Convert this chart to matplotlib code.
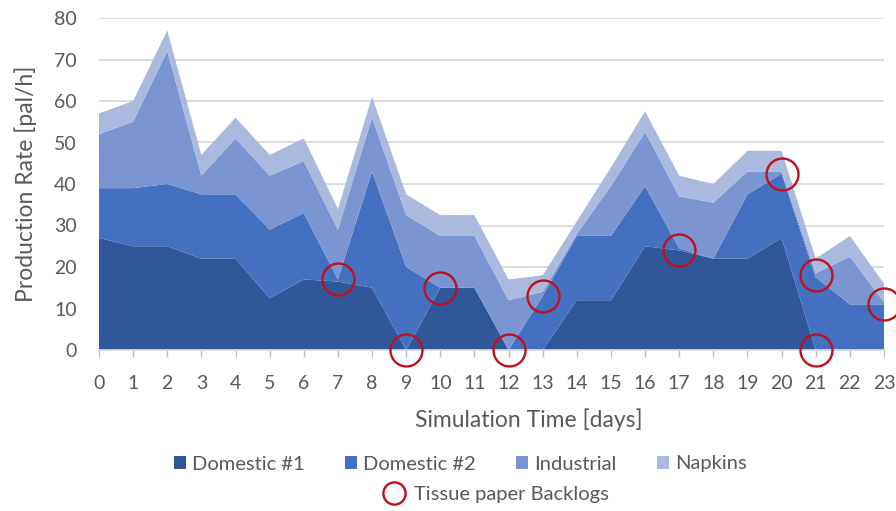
import numpy as np
import matplotlib
matplotlib.use("Agg")
from matplotlib import pyplot as plt
from matplotlib.patches import Patch
from matplotlib.lines import Line2D

plt.rcParams['font.family'] = ['Lato', 'DejaVu Sans']

# daily production rates per product line [pal/h]
days = list(range(24))
domestic1 = [27, 25, 25, 22, 22, 12.5, 17, 16.5, 15, 0, 15, 15, 0, 0, 12, 12, 25, 24, 22, 22, 27, 0, 0, 0]
domestic2 = [12, 14, 15, 15.5, 15.5, 16.5, 16, 0.5, 28, 20, 0, 0, 0, 13, 15.5, 15.5, 14.5, 0.5, 0, 15.5, 15.5, 17.5, 11, 11]
industrial = [13, 16, 32, 4.5, 13.5, 13, 12.5, 12, 13, 12.5, 12.5, 12.5, 12, 1, 0.5, 12, 13, 12.5, 13.5, 5.5, 0.5, 1, 11.5, 0.5]
napkins = [5, 5, 5, 5, 5, 5, 5.5, 5, 5, 5, 5, 5, 5, 4, 3, 4.5, 5, 5, 4.5, 5, 5, 3.5, 5, 4.5]

series_names = ['Domestic #1', 'Domestic #2', 'Industrial', 'Napkins']
series_colors = ['#30579A', '#4370C0', '#7B95D2', '#ABB9DE']

# backlog markers (day, production rate)
backlog_day = [7, 9, 10, 12, 13, 17, 20, 21, 21, 23]
backlog_rate = [17, 0, 15, 0, 13, 24, 42.5, 0, 18, 11]

grey = '#595959'

fig = plt.figure(figsize=(8.96, 5.11), dpi=100)
ax = fig.add_axes([99 / 896, 1 - 350 / 511, 785 / 896, 332 / 511])

ax.stackplot(days, domestic1, domestic2, industrial, napkins,
             colors=series_colors, linewidth=0, zorder=2)
ax.plot(backlog_day, backlog_rate, 'o', ms=23, mfc='none', mec='#C0101C',
        mew=1.7, clip_on=False, zorder=5)

ax.set_xlim(0, 23)
ax.set_ylim(0, 80)
ax.set_xticks(days)
ax.set_yticks(range(0, 81, 10))
ax.yaxis.grid(True, color='#D9D9D9', lw=1.3, zorder=0)
ax.set_axisbelow(True)
for s in ['top', 'right', 'left']:
    ax.spines[s].set_visible(False)
ax.spines['bottom'].set_color('#D9D9D9')
ax.spines['bottom'].set_linewidth(1.3)
ax.tick_params(axis='x', colors='#BFBFBF', length=5, width=1, pad=13,
               labelcolor=grey, labelsize=14)
ax.tick_params(axis='y', length=0, pad=16, labelcolor=grey, labelsize=14)

ax.set_xlabel('Simulation Time [days]', fontsize=16.5, color=grey)
ax.xaxis.set_label_coords(0.547, -0.211)
ax.xaxis.label.set_va('center')
ax.set_ylabel('Production Rate [pal/h]', fontsize=16.5, color=grey)
ax.yaxis.set_label_coords(-0.094, 0.5)
ax.yaxis.label.set_va('center')

# legend: row of products, then the backlog marker underneath
handles = [Patch(facecolor=c, edgecolor='none', label=n)
           for c, n in zip(series_colors, series_names)]
leg1 = fig.legend(handles=handles, ncol=4, loc='center',
                  bbox_to_anchor=(460 / 896, 1 - 464 / 511), frameon=False,
                  fontsize=14.5, handlelength=0.6, handleheight=0.6,
                  handletextpad=0.3, columnspacing=2.0, labelcolor=grey)
circle = Line2D([], [], ls='none', marker='o', ms=16, mfc='none', mec='#C0101C',
                mew=1.7, label='Tissue paper Backlogs')
leg2 = fig.legend(handles=[circle], loc='center',
                  bbox_to_anchor=(496 / 896, 1 - 494 / 511), frameon=False,
                  fontsize=14.5, handlelength=1.0, handletextpad=0.5,
                  labelcolor=grey)

fig.savefig('out.png', dpi=100)
